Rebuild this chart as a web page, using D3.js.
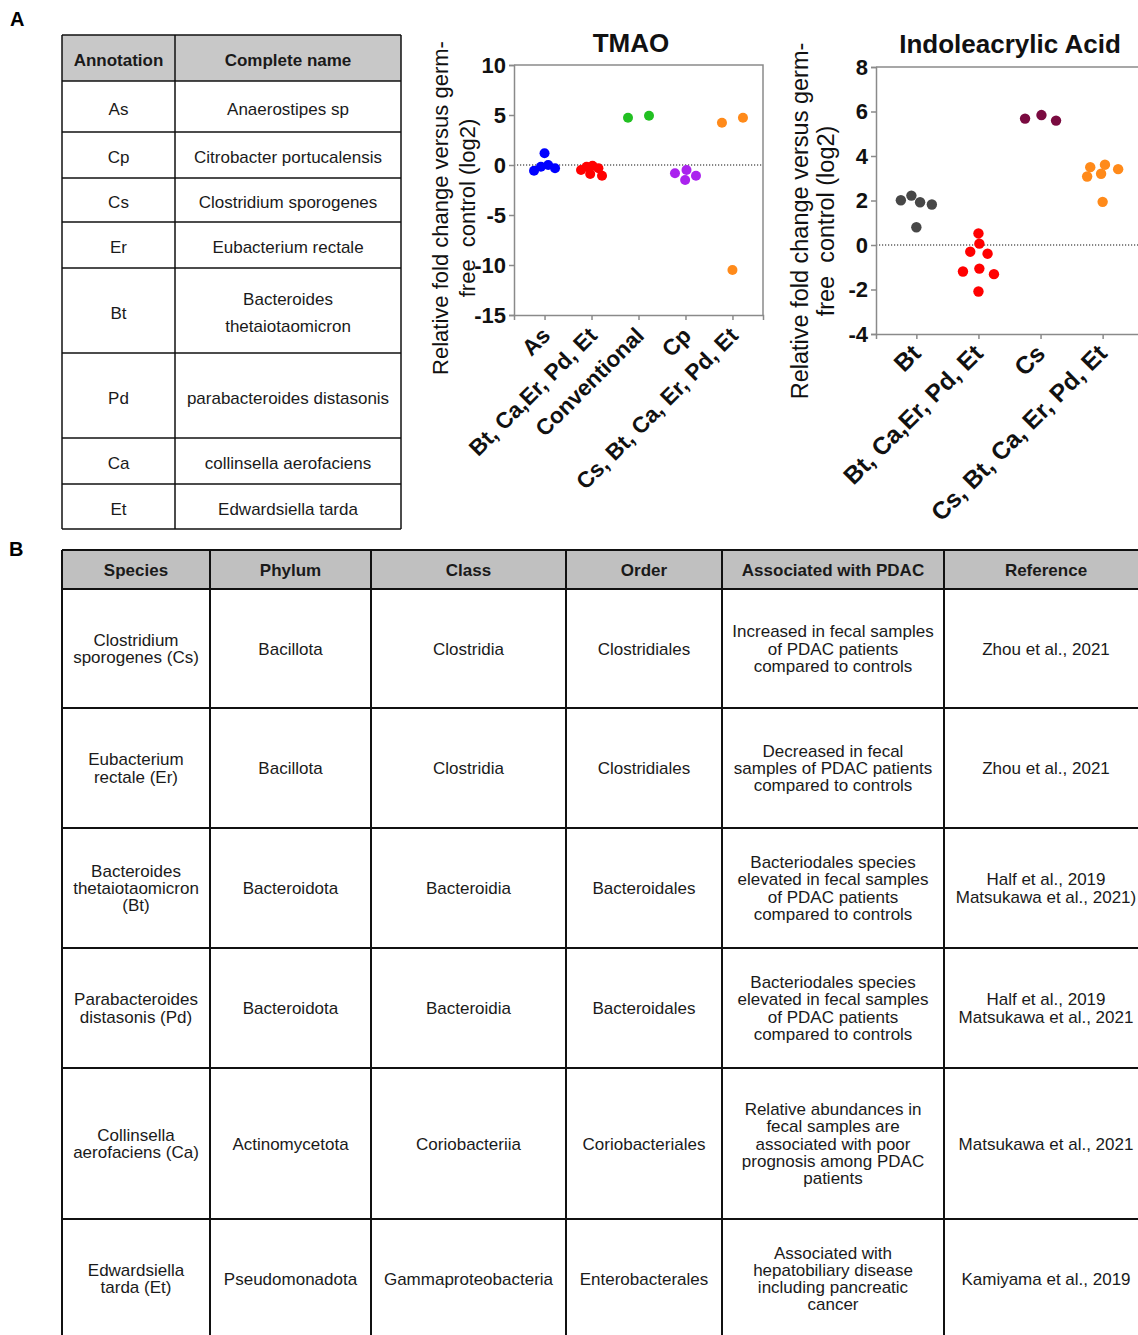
<!DOCTYPE html>
<html>
<head>
<meta charset="utf-8">
<script src="https://cdn.jsdelivr.net/npm/d3@7"></script>
<style>
body { margin: 0; background: #fff; overflow: hidden; }
text { font-family: "Liberation Sans", Arial, sans-serif; }
</style>
</head>
<body>
<svg id="fig" width="1138" height="1335"></svg>
<script>
// ---- data ----
var tmaoCategories = ["As", "Bt, Ca,Er, Pd, Et", "Conventional", "Cp", "Cs, Bt, Ca, Er, Pd, Et"];
var tmaoValues = [
    [-0.57, 0, 1.17, -0.33, -0.17],
    [-0.9, -0.07, -0.5, -0.17, -1.07, -0.33],
    [4.73, 4.93],
    [-1.5, -0.5, -1.07, -0.83],
    [4.73, 4.23, -10.5]
];
var tmaoTicks = [-15, -10, -5, 0, 5, 10];
var tmaoColors = ["#0000ff", "#ff0000", "#22c022", "#aa22ee", "#ff8a1a"];

var iaaCategories = ["Bt", "Bt, Ca,Er, Pd, Et", "Cs", "Cs, Bt, Ca, Er, Pd, Et"];
var iaaValues = [
    [2.22, 1.92, 2.01, 1.82, 0.80],
    [0.52, -0.30, -0.39, 0.06, -1.06, -1.31, -1.19, -2.09],
    [5.59, 5.84, 5.68],
    [3.50, 3.20, 3.61, 3.08, 3.41, 1.94]
];
var iaaTicks = [-4, -2, 0, 2, 4, 6, 8];
var iaaColors = ["#474747", "#ff0000", "#7a0a40", "#ff8a1a"];

var yLabel = ["Relative fold change versus germ-", "free  control (log2)"];

var tableAHeader = ["Annotation", "Complete name"];
var tableARows = [
    ["As", "Anaerostipes sp"],
    ["Cp", "Citrobacter portucalensis"],
    ["Cs", "Clostridium sporogenes"],
    ["Er", "Eubacterium rectale"],
    ["Bt", "Bacteroides\nthetaiotaomicron"],
    ["Pd", "parabacteroides distasonis"],
    ["Ca", "collinsella aerofaciens"],
    ["Et", "Edwardsiella tarda"]
];

var tableBHeader = ["Species", "Phylum", "Class", "Order", "Associated with PDAC", "Reference"];
var tableBRows = [
    ["Clostridium\nsporogenes (Cs)", "Bacillota", "Clostridia", "Clostridiales",
     "Increased in fecal samples\nof PDAC patients\ncompared to controls", "Zhou et al., 2021"],
    ["Eubacterium\nrectale (Er)", "Bacillota", "Clostridia", "Clostridiales",
     "Decreased in fecal\nsamples of PDAC patients\ncompared to controls", "Zhou et al., 2021"],
    ["Bacteroides\nthetaiotaomicron\n(Bt)", "Bacteroidota", "Bacteroidia", "Bacteroidales",
     "Bacteriodales species\nelevated in fecal samples\nof PDAC patients\ncompared to controls", "Half et al., 2019\nMatsukawa et al., 2021)"],
    ["Parabacteroides\ndistasonis (Pd)", "Bacteroidota", "Bacteroidia", "Bacteroidales",
     "Bacteriodales species\nelevated in fecal samples\nof PDAC patients\ncompared to controls", "Half et al., 2019\nMatsukawa et al., 2021"],
    ["Collinsella\naerofaciens (Ca)", "Actinomycetota", "Coriobacteriia", "Coriobacteriales",
     "Relative abundances in\nfecal samples are\nassociated with poor\nprognosis among PDAC\npatients", "Matsukawa et al., 2021"],
    ["Edwardsiella\ntarda (Et)", "Pseudomonadota", "Gammaproteobacteria", "Enterobacterales",
     "Associated with\nhepatobiliary disease\nincluding pancreatic\ncancer", "Kamiyama et al., 2019"]
];

// ---- layout ----
var svg = d3.select("#fig");

svg.append("text").attr("x", 10).attr("y", 26).style("font-size", "20px").style("font-weight", "bold").text("A");
svg.append("text").attr("x", 9).attr("y", 556).style("font-size", "20px").style("font-weight", "bold").text("B");

// beeswarm, then stretched to a fixed column width like Prism does
function swarm(vals, y, r, spread) {
    var order = d3.range(vals.length).sort(function(a, b) { return vals[b] - vals[a]; });
    var placed = [];
    var dmin = 2 * r * 0.9;
    order.forEach(function(i) {
        var py = y(vals[i]);
        for (var k = 0; k < 400; k++) {
            var off = (k % 2 ? -1 : 1) * Math.ceil(k / 2) * 0.5;
            var ok = placed.every(function(p) { return Math.hypot(p.dx - off, p.y - py) >= dmin; });
            if (ok) { placed.push({ v: vals[i], dx: off, y: py }); break; }
        }
    });
    var ext = d3.extent(placed, function(p) { return p.dx; });
    var shift = (ext[0] + ext[1]) / 2;
    var k = ext[1] > ext[0] ? spread / (ext[1] - ext[0]) : 1;
    placed.forEach(function(p) {
        var alone = placed.every(function(q) { return q === p || Math.abs(q.y - p.y) >= dmin; });
        p.dx = alone ? 0 : (p.dx - shift) * k;
    });
    return placed;
}

function drawPlot(o) {
    var g = svg.append("g");
    var x = d3.scalePoint().domain(o.cats).range([o.x0, o.x1]).padding(0.65);
    var y = d3.scaleLinear().domain(o.domain).range([o.y1, o.y0]);

    // frame on top and right
    g.append("path")
        .attr("d", "M" + o.x0 + "," + o.y0 + "H" + o.x1 + "V" + o.y1)
        .attr("fill", "none").attr("stroke", "#8a8a8a").attr("stroke-width", 1.5);

    // zero line
    g.append("line")
        .attr("x1", o.x0).attr("x2", o.x1).attr("y1", y(0)).attr("y2", y(0))
        .attr("stroke", "#111").attr("stroke-width", 1.2).attr("stroke-dasharray", "1.2,1.8");

    var ya = g.append("g").attr("transform", "translate(" + o.x0 + ",0)")
        .call(d3.axisLeft(y).tickValues(o.ticks).tickSize(5).tickPadding(3)
            .tickFormat(function(d) { return String(d); }));
    ya.select(".domain").attr("stroke", "#8a8a8a").attr("stroke-width", 1.5);
    ya.selectAll(".tick line").attr("stroke", "#8a8a8a").attr("stroke-width", 1.5);
    ya.selectAll(".tick text").attr("fill", "#111").style("font-size", "22px").style("font-weight", "bold")
        .style("font-family", "'Liberation Sans', Arial, sans-serif");

    var xa = g.append("g").attr("transform", "translate(0," + o.y1 + ")")
        .call(d3.axisBottom(x).tickSize(5).tickFormat(""));
    xa.select(".domain").attr("stroke", "#8a8a8a").attr("stroke-width", 1.5);
    xa.selectAll(".tick line").attr("stroke", "#8a8a8a").attr("stroke-width", 1.5);

    g.selectAll(".catlab").data(o.cats).enter().append("text")
        .attr("class", "catlab")
        .attr("text-anchor", "end")
        .attr("transform", function(d) {
            return "translate(" + (x(d) + o.labDx) + "," + (o.y1 + o.labDy) + ") rotate(-45)";
        })
        .style("font-size", o.catFont + "px").style("font-weight", "bold").attr("fill", "#111")
        .text(function(d) { return d; });

    o.values.forEach(function(vals, ci) {
        var pts = swarm(vals, y, o.r, o.spread);
        g.selectAll(".pt" + ci).data(pts).enter().append("circle")
            .attr("cx", function(p) { return x(o.cats[ci]) + p.dx; })
            .attr("cy", function(p) { return p.y; })
            .attr("r", o.r)
            .attr("fill", o.colors[ci]);
    });

    g.append("text").attr("x", o.titleX).attr("y", o.titleY).attr("text-anchor", "middle")
        .style("font-size", "26px").style("font-weight", "bold").attr("fill", "#111").text(o.title);

    yLabel.forEach(function(t, i) {
        g.append("text")
            .attr("transform", "translate(" + o.labX[i] + "," + o.labY + ") rotate(-90)")
            .attr("text-anchor", "middle").attr("dominant-baseline", "central")
            .style("font-size", o.labFont + "px").attr("fill", "#111")
            .style("white-space", "pre").attr("xml:space", "preserve")
            .text(t);
    });
}

drawPlot({
    title: "TMAO", titleX: 631, titleY: 52,
    cats: tmaoCategories, values: tmaoValues, colors: tmaoColors,
    ticks: tmaoTicks, domain: [-15, 10],
    x0: 514, x1: 763, y0: 65, y1: 315, r: 5, spread: 21,
    catFont: 22.5, labDx: 7, labDy: 22,
    labX: [440, 467], labY: 208, labFont: 22
});

drawPlot({
    title: "Indoleacrylic Acid", titleX: 1010, titleY: 53,
    cats: iaaCategories, values: iaaValues, colors: iaaColors,
    ticks: iaaTicks, domain: [-4, 8],
    x0: 876, x1: 1143, y0: 67, y1: 334, r: 5.2, spread: 31,
    catFont: 24.5, labDx: 6, labDy: 21,
    labX: [800, 826], labY: 221, labFont: 23.5
});

// ---- tables ----
function drawTable(o) {
    var g = svg.append("g");
    var cols = o.cols, rows = o.rows;
    g.append("rect")
        .attr("x", cols[0]).attr("y", rows[0])
        .attr("width", cols[cols.length - 1] - cols[0]).attr("height", rows[1] - rows[0])
        .attr("fill", o.headFill);

    var all = [o.header].concat(o.body);
    all.forEach(function(row, ri) {
        row.forEach(function(cell, ci) {
            var lines = cell.split("\n");
            var cx = (cols[ci] + cols[ci + 1]) / 2;
            var cy = (rows[ri] + rows[ri + 1]) / 2 + o.dy;
            var lh = ri === 0 ? 0 : o.lineH;
            var t = g.append("text")
                .attr("text-anchor", "middle").attr("dominant-baseline", "central")
                .attr("fill", "#1a1a1a")
                .style("font-size", o.font + "px")
                .style("font-weight", ri === 0 ? "bold" : "normal");
            t.selectAll("tspan").data(lines).enter().append("tspan")
                .attr("x", cx)
                .attr("y", function(d, i) { return cy + (i - (lines.length - 1) / 2) * lh; })
                .text(function(d) { return d; });
        });
    });

    g.selectAll(".hl").data(rows).enter().append("line")
        .attr("x1", cols[0]).attr("x2", cols[cols.length - 1])
        .attr("y1", function(d) { return d; }).attr("y2", function(d) { return d; })
        .attr("stroke", "#111").attr("stroke-width", o.stroke);
    g.selectAll(".vl").data(cols).enter().append("line")
        .attr("y1", rows[0]).attr("y2", rows[rows.length - 1])
        .attr("x1", function(d) { return d; }).attr("x2", function(d) { return d; })
        .attr("stroke", "#111").attr("stroke-width", o.stroke);
}

drawTable({
    header: tableAHeader, body: tableARows,
    cols: [62, 175, 401],
    rows: [35, 81, 132, 178, 222, 268, 353, 438, 484, 529],
    headFill: "#c8c8c8", font: 17, lineH: 27, dy: 2, stroke: 1.5
});

drawTable({
    header: tableBHeader, body: tableBRows,
    cols: [62, 210, 371, 566, 722, 944, 1148],
    rows: [550, 589, 708, 828, 948, 1068, 1219, 1338],
    headFill: "#c0c0c0", font: 17, lineH: 17.3, dy: 0, stroke: 2
});
</script>
</body>
</html>
